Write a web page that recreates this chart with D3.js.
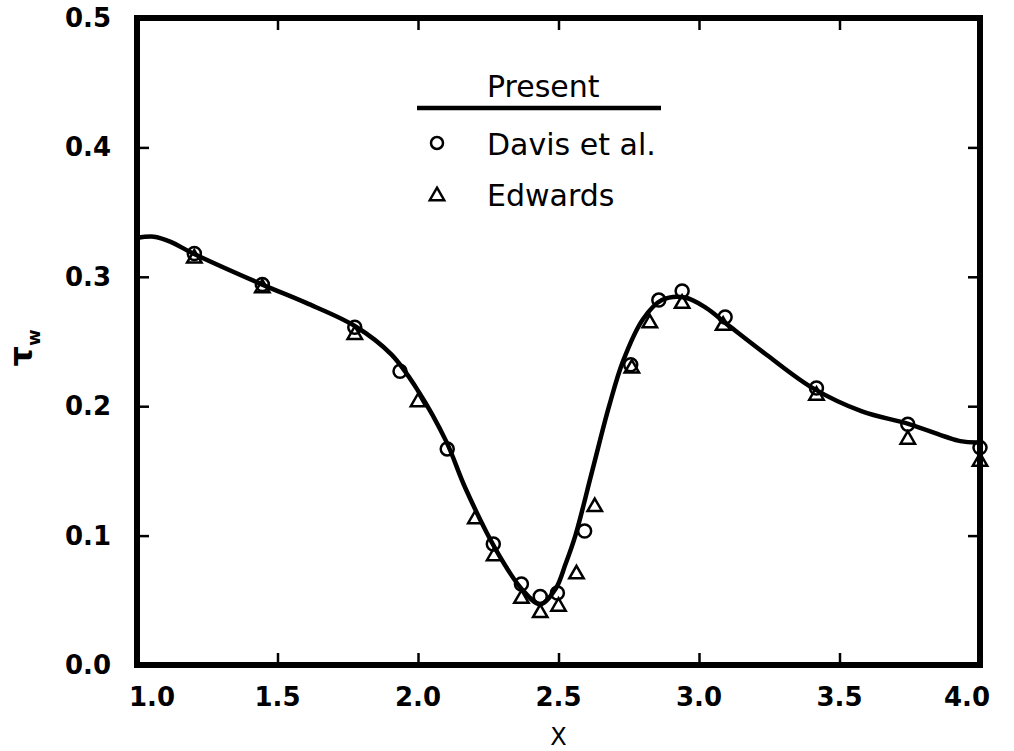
<!DOCTYPE html>
<html>
<head>
<meta charset="utf-8">
<script src="https://cdn.jsdelivr.net/npm/d3@7"></script>
<style>
  html, body { margin: 0; padding: 0; background: #fff; }
  svg { display: block; }
</style>
</head>
<body>
<svg id="chart" width="1014" height="751"></svg>
<script>
// ---- data ----
const xTicks = [1.0, 1.5, 2.0, 2.5, 3.0, 3.5, 4.0];
const yTicks = [0.0, 0.1, 0.2, 0.3, 0.4, 0.5];

const presentX = [1.0, 1.06, 1.12, 1.2, 1.446, 1.6, 1.775, 1.905, 2.0, 2.1, 2.168, 2.275, 2.368, 2.435, 2.49, 2.525, 2.56, 2.62, 2.68, 2.73, 2.80, 2.868, 2.95, 3.025, 3.096, 3.239, 3.405, 3.58, 3.75, 3.93, 4.0];
const presentY = [0.330, 0.331, 0.327, 0.318, 0.294, 0.280, 0.262, 0.240, 0.212, 0.173, 0.137, 0.090, 0.059, 0.047, 0.059, 0.078, 0.100, 0.150, 0.200, 0.235, 0.267, 0.282, 0.284, 0.276, 0.264, 0.240, 0.214, 0.196, 0.186, 0.173, 0.172];

const davisX = [1.204, 1.446, 1.775, 1.936, 2.104, 2.268, 2.368, 2.435, 2.496, 2.593, 2.757, 2.857, 2.94, 3.093, 3.418, 3.743, 4.0];
const davisY = [0.318, 0.294, 0.261, 0.227, 0.167, 0.0935, 0.0626, 0.053, 0.0557, 0.1035, 0.232, 0.282, 0.289, 0.269, 0.214, 0.186, 0.168];

const edwardsX = [1.204, 1.446, 1.775, 2.0, 2.204, 2.271, 2.368, 2.435, 2.5, 2.564, 2.629, 2.761, 2.825, 2.94, 3.086, 3.418, 3.743, 4.0];
const edwardsY = [0.315, 0.292, 0.256, 0.204, 0.1136, 0.085, 0.052, 0.041, 0.046, 0.071, 0.123, 0.230, 0.265, 0.280, 0.263, 0.209, 0.175, 0.158];

const legendLabels = ["Present", "Davis et al.", "Edwards"];

// ---- chart ----
const svg = d3.select("#chart");
const mLeft = 137, mRight = 980, mTop = 18, mBottom = 665;
const x = d3.scaleLinear().domain([1, 4]).range([mLeft, mRight]);
const y = d3.scaleLinear().domain([0, 0.5]).range([mBottom, mTop]);

const tickFont = "'DejaVu Sans', sans-serif";
const tickLen = 12;

// ticks (inward, all four sides)
const g = svg.append("g");
const bottomAxis = d3.axisBottom(x).tickValues(xTicks).tickSize(-tickLen).tickFormat("");
const topAxis = d3.axisTop(x).tickValues(xTicks).tickSize(-tickLen).tickFormat("");
const leftAxis = d3.axisLeft(y).tickValues(yTicks).tickSize(-tickLen).tickFormat("");
const rightAxis = d3.axisRight(y).tickValues(yTicks).tickSize(-tickLen).tickFormat("");
[[bottomAxis, `translate(0,${mBottom})`], [topAxis, `translate(0,${mTop})`],
 [leftAxis, `translate(${mLeft},0)`], [rightAxis, `translate(${mRight},0)`]].forEach(([ax, tr]) => {
  const a = g.append("g").attr("transform", tr).call(ax);
  a.select(".domain").remove();
  a.selectAll(".tick line").attr("stroke", "#000").attr("stroke-width", 2.5);
});

// frame
svg.append("rect")
  .attr("x", mLeft).attr("y", mTop)
  .attr("width", mRight - mLeft).attr("height", mBottom - mTop)
  .attr("fill", "none").attr("stroke", "#000").attr("stroke-width", 6);

// tick labels
svg.append("g").selectAll("text").data(xTicks).join("text")
  .attr("x", (d, i) => x(d) + (i === 0 ? 15 : (i === xTicks.length - 1 ? -13 : 0)))
  .attr("y", 706)
  .attr("text-anchor", "middle")
  .attr("font-family", tickFont).attr("font-weight", "bold").attr("font-size", 26)
  .text(d => d.toFixed(1));

svg.append("g").selectAll("text").data(yTicks).join("text")
  .attr("x", 111)
  .attr("y", d => y(d) + 9)
  .attr("text-anchor", "end")
  .attr("font-family", tickFont).attr("font-weight", "bold").attr("font-size", 26)
  .text(d => d.toFixed(1));

// axis titles
svg.append("text")
  .attr("x", x(2.5)).attr("y", 745)
  .attr("text-anchor", "middle")
  .attr("font-family", tickFont).attr("font-size", 24)
  .text("X");

const yl = svg.append("text")
  .attr("transform", "translate(32,348) rotate(-90)")
  .attr("text-anchor", "middle")
  .attr("font-family", tickFont).attr("font-weight", "bold").attr("font-size", 32);
yl.append("tspan").text("τ");
yl.append("tspan").attr("font-size", 18).attr("dy", 8).text("w");

// present curve
const presentData = presentX.map((v, i) => [v, presentY[i]]);
svg.append("path")
  .datum(presentData)
  .attr("fill", "none").attr("stroke", "#000").attr("stroke-width", 4.5)
  .attr("stroke-linejoin", "round")
  .attr("d", d3.line().x(d => x(d[0])).y(d => y(d[1])).curve(d3.curveCatmullRom.alpha(0.5)));

// markers
const davisData = davisX.map((v, i) => [v, davisY[i]]);
const edwardsData = edwardsX.map((v, i) => [v, edwardsY[i]]);
const tri = d3.symbol().type(d3.symbolTriangle).size(90);

svg.append("g").selectAll("circle").data(davisData).join("circle")
  .attr("cx", d => x(d[0])).attr("cy", d => y(d[1])).attr("r", 6.5)
  .attr("fill", "none").attr("stroke", "#000").attr("stroke-width", 2.5);

svg.append("g").selectAll("path").data(edwardsData).join("path")
  .attr("transform", d => `translate(${x(d[0])},${y(d[1]) + 1})`)
  .attr("d", tri)
  .attr("fill", "none").attr("stroke", "#000").attr("stroke-width", 2.5)
  .attr("stroke-linejoin", "miter");

// legend
const lg = svg.append("g");
lg.append("text").attr("x", 487).attr("y", 97)
  .attr("font-family", tickFont).attr("font-size", 30).text(legendLabels[0]);
lg.append("line").attr("x1", 417).attr("x2", 661).attr("y1", 108).attr("y2", 108)
  .attr("stroke", "#000").attr("stroke-width", 4.5);
lg.append("circle").attr("cx", 437).attr("cy", 143).attr("r", 6)
  .attr("fill", "none").attr("stroke", "#000").attr("stroke-width", 2.5);
lg.append("text").attr("x", 487).attr("y", 155)
  .attr("font-family", tickFont).attr("font-size", 30).text(legendLabels[1]);
lg.append("path").attr("transform", "translate(437,196)").attr("d", tri)
  .attr("fill", "none").attr("stroke", "#000").attr("stroke-width", 2.5);
lg.append("text").attr("x", 487).attr("y", 206)
  .attr("font-family", tickFont).attr("font-size", 30).text(legendLabels[2]);
</script>
</body>
</html>
